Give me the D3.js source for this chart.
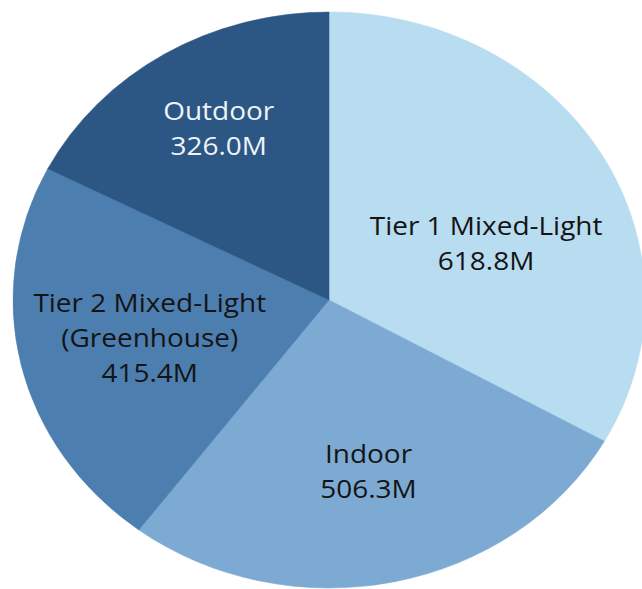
<!DOCTYPE html>
<html>
<head>
<meta charset="utf-8">
<script src="https://cdn.jsdelivr.net/npm/d3@7"></script>
<style>
  body { margin: 0; background: #fff; }
</style>
</head>
<body>
<div id="chart"></div>
<script>
// data, clockwise from 12 o'clock
var categories = ["Tier 1 Mixed-Light", "Indoor", "Tier 2 Mixed-Light (Greenhouse)", "Outdoor"];
var values = [618.8, 506.3, 415.4, 326.0];
var valueLabels = ["618.8M", "506.3M", "415.4M", "326.0M"];
var labelLines = [["Tier 1 Mixed-Light"], ["Indoor"], ["Tier 2 Mixed-Light", "(Greenhouse)"], ["Outdoor"]];

var colors = ["#b8dcf0", "#7daad3", "#4d7eb0", "#2c5784"];
var textColors = ["#141414", "#141414", "#141414", "#eef3f8"];
// label placement: radius as fraction of pie radius, and angle nudge in degrees
var labelRadius = [0.534, 0.61, 0.582, 0.689];
var labelNudge = [8.9, 0, 0, 1];

var width = 642, height = 589;
var cx = 329, cy = 300, r = 288, sx = 316 / 288;

var svg = d3.select("#chart")
  .append("svg")
  .attr("width", width)
  .attr("height", height);

var g = svg.append("g")
  .attr("transform", "translate(" + cx + "," + cy + ")");

var pieG = g.append("g")
  .attr("transform", "scale(" + sx + ",1)");

var pie = d3.pie().sort(null).value(function (d) { return d; });
var arcs = pie(values);

var arc = d3.arc().innerRadius(0).outerRadius(r);

pieG.selectAll("path")
  .data(arcs)
  .enter()
  .append("path")
  .attr("d", arc)
  .attr("fill", function (d, i) { return colors[i]; })
  .attr("stroke", function (d, i) { return colors[i]; })
  .attr("stroke-width", 0.5);

// labels
var lineH = 35, capH = 18;
arcs.forEach(function (d, i) {
  var a = (d.startAngle + d.endAngle) / 2 + labelNudge[i] * Math.PI / 180;
  var lr = r * labelRadius[i];
  var x = Math.sin(a) * lr * sx;
  var y = -Math.cos(a) * lr;
  var lines = labelLines[i].concat([valueLabels[i]]);
  var n = lines.length;
  var t = g.append("text")
    .attr("text-anchor", "middle")
    .attr("transform", "translate(" + x + "," + y + ") scale(" + sx + ",1)")
    .style("font-family", "'Open Sans', sans-serif")
    .style("font-size", "25.5px")
    .style("fill", textColors[i]);
  lines.forEach(function (s, j) {
    t.append("tspan")
      .attr("x", 0)
      .attr("y", (j - (n - 1) / 2) * lineH + capH / 2)
      .text(s);
  });
});
</script>
</body>
</html>
